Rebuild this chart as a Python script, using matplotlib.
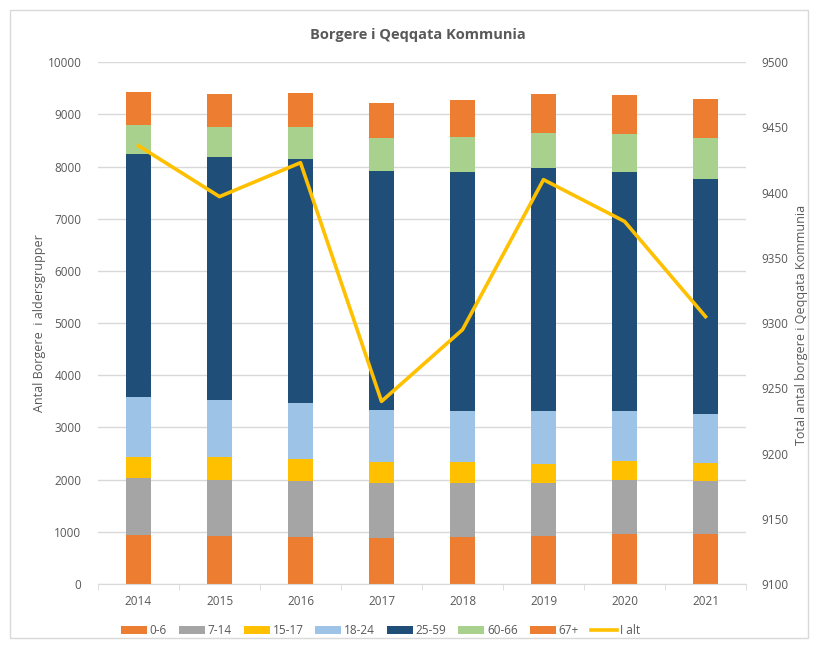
import matplotlib
matplotlib.use("Agg")
import matplotlib.pyplot as plt
import numpy as np
from matplotlib.patches import Rectangle

plt.rcParams["font.family"] = ["Open Sans", "DejaVu Sans"]

years = ["2014", "2015", "2016", "2017", "2018", "2019", "2020", "2021"]
groups = ["0-6", "7-14", "15-17", "18-24", "25-59", "60-66", "67+"]

age_0_6 = [939, 920, 900, 875, 900, 920, 964, 964]
age_7_14 = [1092, 1078, 1073, 1054, 1041, 1021, 1034, 1009]
age_15_17 = [408, 429, 416, 402, 390, 364, 358, 345]
age_18_24 = [1137, 1098, 1078, 1002, 977, 1003, 952, 945]
age_25_59 = [4675, 4655, 4675, 4585, 4598, 4656, 4598, 4496]
age_60_66 = [548, 575, 613, 632, 657, 682, 715, 791]
age_67 = [632, 638, 664, 671, 715, 754, 747, 741]
total = [9436, 9397, 9423, 9240, 9295, 9410, 9378, 9305]

series = [age_0_6, age_7_14, age_15_17, age_18_24, age_25_59, age_60_66, age_67]
colors = ["#ED7D31", "#A5A5A5", "#FFC000", "#9DC3E6", "#1F4E79", "#A9D18E", "#ED7D31"]

TXT = "#595959"
GRID = "#D9D9D9"

fig = plt.figure(figsize=(8.18, 6.46), dpi=100)
# chart border
fig.patches.append(Rectangle((10 / 818, 8 / 646), 798 / 818, 628 / 646,
                             transform=fig.transFigure, fill=False,
                             edgecolor=GRID, lw=1))
ax = fig.add_axes([0.1198, 0.096, 0.7922, 0.8076])

x = np.arange(len(years))
bottom = np.zeros(len(years))
handles = []
for vals, c, g in zip(series, colors, groups):
    b = ax.bar(x, vals, bottom=bottom, width=0.32, color=c, label=g, zorder=2)
    handles.append(b)
    bottom += np.array(vals)

ax.set_xlim(-0.5, len(years) - 0.5)
ax.set_ylim(0, 10000)
ax.set_yticks(np.arange(0, 10001, 1000))
ax.grid(axis="y", color=GRID, lw=1, zorder=0)
ax.set_axisbelow(True)
for s in ["top", "left", "right"]:
    ax.spines[s].set_visible(False)
ax.spines["bottom"].set_color(GRID)
ax.set_xticks(x)
ax.set_xticklabels(years)
ax.set_xticks(np.arange(-0.5, len(years), 1), minor=True)
ax.tick_params(axis="x", which="major", length=0, colors=TXT, labelsize=8.5, pad=8)
ax.tick_params(axis="x", which="minor", length=4, color=GRID)
ax.tick_params(axis="y", length=0, colors=TXT, labelsize=8.5, pad=12)

ax2 = ax.twinx()
ln, = ax2.plot(x, total, color="#FFC000", lw=2.6, label="I alt", zorder=3)
ax2.set_ylim(9100, 9500)
ax2.set_yticks(np.arange(9100, 9501, 50))
for s in ax2.spines.values():
    s.set_visible(False)
ax2.tick_params(axis="y", length=0, colors=TXT, labelsize=8.5, pad=11)

fig.text(40 / 818, 0.5, "Antal Borgere  i aldersgrupper", rotation=90,
         ha="center", va="center", color=TXT, fontsize=9)
fig.text(801 / 818, 0.497, "Total antal borgere i Qeqqata Kommunia", rotation=90,
         ha="center", va="center", color=TXT, fontsize=9)

fig.text(0.511, 0.946, "Borgere i Qeqqata Kommunia", ha="center", va="center",
         fontsize=10.5, fontweight="bold", color=TXT)

leg = fig.legend(handles + [ln], groups + ["I alt"], loc="center",
                 bbox_to_anchor=(0.465, 0.024), ncol=8, frameon=False,
                 fontsize=8.5, handlelength=2.2, handleheight=0.6,
                 handletextpad=0.25, columnspacing=1.0)
for t in leg.get_texts():
    t.set_color(TXT)

fig.savefig("out.png", dpi=100)
